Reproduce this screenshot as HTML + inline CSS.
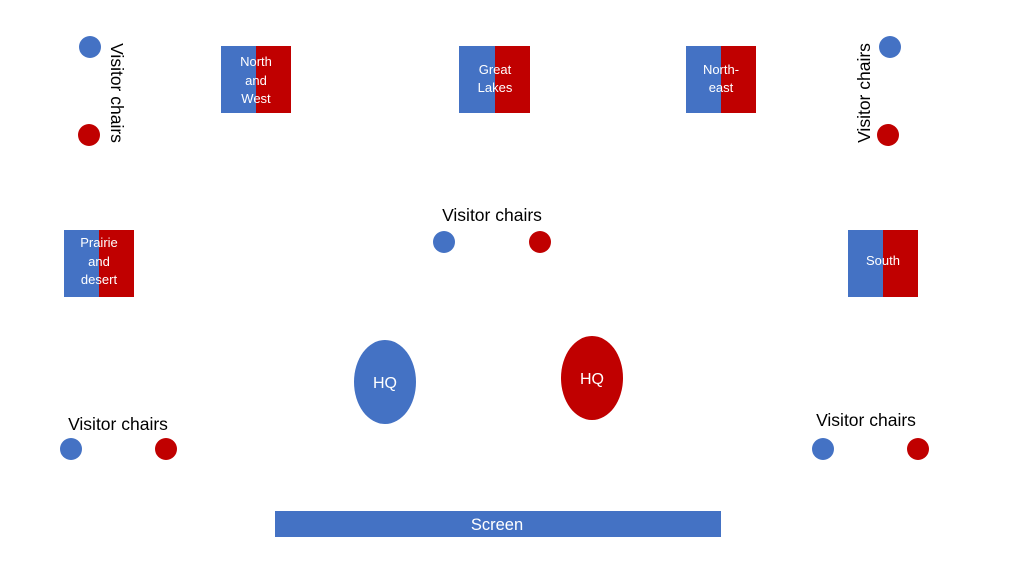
<!DOCTYPE html>
<html><head><meta charset="utf-8"><style>
html,body{margin:0;padding:0;background:#fff;width:1024px;height:576px;overflow:hidden}
svg{display:block}
text{font-family:"Liberation Sans",sans-serif}
</style></head><body>
<svg width="1024" height="576" viewBox="0 0 1024 576">
<rect x="221" y="46" width="35" height="67" fill="#4472C4"/><rect x="256" y="46" width="35" height="67" fill="#C00000"/>
<rect x="459" y="46" width="36" height="67" fill="#4472C4"/><rect x="495" y="46" width="35" height="67" fill="#C00000"/>
<rect x="686" y="46" width="35" height="67" fill="#4472C4"/><rect x="721" y="46" width="35" height="67" fill="#C00000"/>
<rect x="64" y="230" width="35" height="67" fill="#4472C4"/><rect x="99" y="230" width="35" height="67" fill="#C00000"/>
<rect x="848" y="230" width="35" height="67" fill="#4472C4"/><rect x="883" y="230" width="35" height="67" fill="#C00000"/>
<g fill="#fff" font-size="13" text-anchor="middle">
<text x="256" y="66">North</text><text x="256" y="85">and</text><text x="256" y="103">West</text>
<text x="495" y="74">Great</text><text x="495" y="92">Lakes</text>
<text x="721" y="74">North-</text><text x="721" y="92">east</text>
<text x="99" y="247">Prairie</text><text x="99" y="266">and</text><text x="99" y="284">desert</text>
<text x="883" y="265">South</text>
</g>
<circle cx="90" cy="47" r="11" fill="#4472C4"/><circle cx="89" cy="135" r="11" fill="#C00000"/>
<circle cx="890" cy="47" r="11" fill="#4472C4"/><circle cx="888" cy="135" r="11" fill="#C00000"/>
<circle cx="444" cy="242" r="11" fill="#4472C4"/><circle cx="540" cy="242" r="11" fill="#C00000"/>
<circle cx="71" cy="449" r="11" fill="#4472C4"/><circle cx="166" cy="449" r="11" fill="#C00000"/>
<circle cx="823" cy="449" r="11" fill="#4472C4"/><circle cx="918" cy="449" r="11" fill="#C00000"/>
<g fill="#000" font-size="17.5" text-anchor="middle">
<text x="492" y="221">Visitor chairs</text>
<text x="118" y="430">Visitor chairs</text>
<text x="866" y="426">Visitor chairs</text>
<text transform="translate(111,93) rotate(90)">Visitor chairs</text>
<text transform="translate(870,93) rotate(-90)">Visitor chairs</text>
</g>
<ellipse cx="385" cy="382" rx="31" ry="42" fill="#4472C4"/>
<ellipse cx="592" cy="378" rx="31" ry="42" fill="#C00000"/>
<g fill="#fff" font-size="16" text-anchor="middle">
<text x="385" y="388">HQ</text><text x="592" y="384">HQ</text>
</g>
<rect x="275" y="511" width="446" height="26" fill="#4472C4"/>
<text x="497" y="530" fill="#fff" font-size="16.5" text-anchor="middle">Screen</text>
</svg>
</body></html>
